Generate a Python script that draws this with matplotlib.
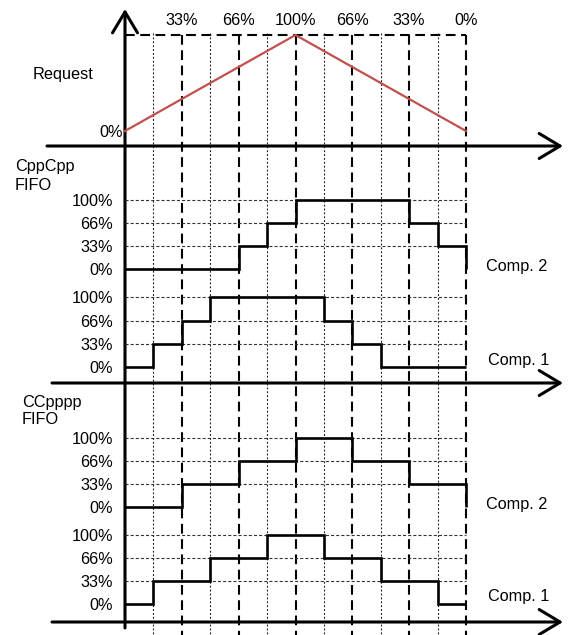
import matplotlib
matplotlib.use('Agg')
import matplotlib.pyplot as plt
from matplotlib.transforms import blended_transform_factory

plt.rcParams['font.family'] = ['Liberation Sans', 'DejaVu Sans']
plt.rcParams['lines.scale_dashes'] = False

# ---------------- data ----------------
t = list(range(13))                      # time steps
request_t = [0, 6, 12]
request_pct = [0, 100, 0]
top_tick_t = [2, 4, 6, 8, 10, 12]
top_tick_labels = ['33%', '66%', '100%', '66%', '33%', '0%']
levels = [0, 33, 66, 100]
level_labels = ['0%', '33%', '66%', '100%']
cppcpp_comp2 = [0, 0, 0, 0, 33, 66, 100, 100, 100, 100, 66, 33, 0]
cppcpp_comp1 = [0, 33, 66, 100, 100, 100, 100, 66, 33, 0, 0, 0, 0]
ccpppp_comp2 = [0, 0, 33, 33, 66, 66, 100, 100, 66, 66, 33, 33, 0]
ccpppp_comp1 = [0, 33, 33, 66, 66, 100, 100, 66, 66, 33, 33, 0, 0]
dashed_t = [2, 4, 6, 8, 10, 12]
dotted_t = [1, 3, 5, 7, 9, 11]

# ---------------- layout ----------------
W, H, DPI = 568, 635, 100
X0, X1 = 125, 466
FS = 11.7
PT = DPI / 72.0

fig = plt.figure(figsize=(W / DPI, H / DPI), dpi=DPI)
fig.patch.set_facecolor('white')

ov = fig.add_axes([0, 0, 1, 1], zorder=0)
ov.set_xlim(0, W)
ov.set_ylim(H, 0)
ov.axis('off')


def rect(y_top, y_bot):
    return [X0 / W, 1 - y_bot / H, (X1 - X0) / W, (y_bot - y_top) / H]


def make_panel(y_top, y_bot):
    ax = fig.add_axes(rect(y_top, y_bot), zorder=2)
    ax.set_facecolor('none')
    ax.set_xlim(0, 12)
    ax.set_ylim(0, 100)
    for s in ax.spines.values():
        s.set_visible(False)
    ax.set_xticks([])
    return ax


# request panel
ax_req = make_panel(35, 131)
ax_req.plot(request_t, request_pct, color='#C0504D', lw=1.6, clip_on=False, zorder=3)
ax_req.hlines(100, 0, 12, colors='k', lw=1.5, linestyles=(0, (7, 4)), clip_on=False)
ax_req.set_yticks([0])
ax_req.set_yticklabels(['0%'])
ax_req.tick_params(axis='y', length=0, pad=1.5, labelsize=FS)
ax_req.set_xticks(top_tick_t)
ax_req.set_xticklabels(top_tick_labels)
ax_req.tick_params(axis='x', top=True, labeltop=True, bottom=False, labelbottom=False,
                   length=0, pad=5, labelsize=FS)

# vertical grid lines (time steps)
blend = blended_transform_factory(ax_req.transData, ov.transData)
for tt in dashed_t:
    ov.plot([tt, tt], [35, H], transform=blend, color='k', lw=1.5,
            linestyle=(0, (7, 4)), zorder=1)
for tt in dotted_t:
    ov.plot([tt, tt], [33, H], transform=blend, color='#222222', lw=0.8,
            linestyle=(0, (1.4, 1.4)), zorder=1)

panels = [
    ((200, 269), cppcpp_comp2),
    ((297, 367), cppcpp_comp1),
    ((438, 507), ccpppp_comp2),
    ((535, 604), ccpppp_comp1),
]
for (yt, yb), vals in panels:
    ax = make_panel(yt, yb)
    ax.hlines(levels[1:], 0, 12, colors='#333333', lw=0.8,
              linestyles=(0, (2.2, 1.5)), clip_on=False, zorder=1)
    ax.step(t, vals, where='post', color='k', lw=1.9, clip_on=False,
            solid_joinstyle='miter', solid_capstyle='butt', zorder=3)
    ax.set_yticks(levels)
    ax.set_yticklabels(level_labels)
    ax.tick_params(axis='y', length=0, pad=12 / PT, labelsize=FS)

# axes arrows
def arrow(x0, y0, x1, y1):
    ov.annotate('', xy=(x1, y1), xytext=(x0, y0),
                arrowprops=dict(arrowstyle='->,head_length=0.75,head_width=0.45',
                                lw=2.2, color='k', shrinkA=0, shrinkB=0,
                                mutation_scale=20), zorder=2)

arrow(125, 628, 125, 9)
arrow(47, 146, 563, 146)
arrow(52, 383, 563, 383)
arrow(52, 622, 563, 622)

# texts
ov.text(33, 75, 'Request', fontsize=FS, va='center', ha='left')
ov.text(15, 166, 'CppCpp', fontsize=FS, va='center', ha='left')
ov.text(15, 185, 'FIFO', fontsize=FS, va='center', ha='left')
ov.text(22, 402, 'CCpppp', fontsize=FS, va='center', ha='left')
ov.text(22, 419, 'FIFO', fontsize=FS, va='center', ha='left')
ov.text(486, 266, 'Comp. 2', fontsize=FS, va='center', ha='left')
ov.text(488, 360, 'Comp. 1', fontsize=FS, va='center', ha='left')
ov.text(486, 504, 'Comp. 2', fontsize=FS, va='center', ha='left')
ov.text(488, 597, 'Comp. 1', fontsize=FS, va='center', ha='left')

fig.savefig('out.png', dpi=DPI)
